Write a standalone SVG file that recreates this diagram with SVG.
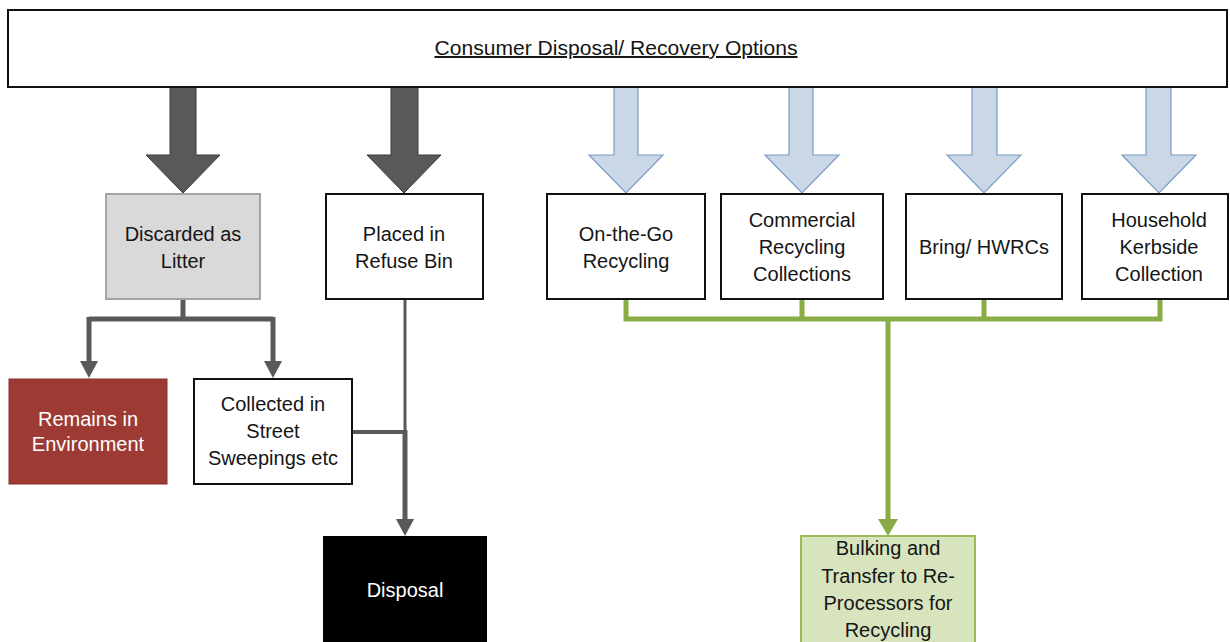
<svg xmlns="http://www.w3.org/2000/svg" width="1230" height="642" viewBox="0 0 1230 642">
<defs>
<style>
.t{font-family:"Liberation Sans",Arial,sans-serif;font-size:20px;fill:#151515;text-anchor:middle}
.w{fill:#ffffff}
.box{fill:#ffffff;stroke:#111;stroke-width:2}
.dark{fill:#595959;stroke:#3a3a3a;stroke-width:1}
.blue{fill:#c9d7e6;stroke:#7c9cc4;stroke-width:1.2}
.gl{fill:none;stroke:#595959;stroke-width:5}
.gr{fill:none;stroke:#8aac46;stroke-width:5}
</style>
<marker id="mg" markerUnits="userSpaceOnUse" markerWidth="18" markerHeight="18" viewBox="0 0 18 18" refX="0" refY="9" orient="auto"><path d="M0,0 L17,9 L0,18 z" fill="#595959"/></marker>
<marker id="mgr" markerUnits="userSpaceOnUse" markerWidth="18" markerHeight="20" viewBox="0 0 18 20" refX="0" refY="10" orient="auto"><path d="M0,0 L17,10 L0,20 z" fill="#8aac46"/></marker>
</defs>
<rect width="1230" height="642" fill="#ffffff"/>

<g id="arrows-top">
<polygon class="dark" points="170,87 196,87 196,155 220,155 183,193 146,155 170,155"/>
<polygon class="dark" points="391,87 418,87 418,155 441,155 404,193 367,155 391,155"/>
<polygon class="blue" points="614,87 638,87 638,155 663,155 626,193 589,155 614,155"/>
<polygon class="blue" points="789,87 813,87 813,155 839,155 802,193 765,155 789,155"/>
<polygon class="blue" points="972,87 997,87 997,155 1021,155 984,193 947,155 972,155"/>
<polygon class="blue" points="1146,87 1171,87 1171,155 1196,155 1159,193 1122,155 1146,155"/>
</g>

<g id="top">
<rect class="box" x="8" y="10" width="1219" height="77"/>
<text class="t" x="616" y="55" font-size="18" textLength="363" lengthAdjust="spacingAndGlyphs" text-decoration="underline">Consumer Disposal/ Recovery Options</text>
</g>

<g id="connectors">
<path class="gl" d="M183,299 V319 M89,319 H273"/>
<path class="gl" d="M89,317 V361" marker-end="url(#mg)"/>
<path class="gl" d="M273,317 V361" marker-end="url(#mg)"/>
<path d="M405,299 V434" fill="none" stroke="#595959" stroke-width="3"/>
<path d="M352,432 H407" fill="none" stroke="#595959" stroke-width="4"/>
<path class="gl" d="M405,430 V519" marker-end="url(#mg)"/>
<path class="gr" d="M626,299 V319 M802,299 V319 M984,299 V319 M1160,299 V319 M623.5,319 H1162.5"/>
<path class="gr" d="M888,317 V519" marker-end="url(#mgr)"/>
</g>

<g id="litter">
<rect x="106" y="194" width="154" height="105" fill="#d9d9d9" stroke="#a3a3a3" stroke-width="2"/>
<text class="t" x="183" y="241">Discarded as</text>
<text class="t" x="183" y="268">Litter</text>
</g>
<g id="refuse">
<rect class="box" x="326" y="194" width="157" height="105"/>
<text class="t" x="404" y="241">Placed in</text>
<text class="t" x="404" y="268">Refuse Bin</text>
</g>
<g id="onthego">
<rect class="box" x="547" y="194" width="158" height="105"/>
<text class="t" x="626" y="241">On-the-Go</text>
<text class="t" x="626" y="268">Recycling</text>
</g>
<g id="commercial">
<rect class="box" x="721" y="194" width="162" height="105"/>
<text class="t" x="802" y="227">Commercial</text>
<text class="t" x="802" y="254">Recycling</text>
<text class="t" x="802" y="281">Collections</text>
</g>
<g id="bring">
<rect class="box" x="906" y="194" width="156" height="105"/>
<text class="t" x="984" y="254">Bring/ HWRCs</text>
</g>
<g id="household">
<rect class="box" x="1082" y="194" width="146" height="105"/>
<text class="t" x="1159" y="227">Household</text>
<text class="t" x="1159" y="254">Kerbside</text>
<text class="t" x="1159" y="281">Collection</text>
</g>
<g id="remains">
<rect x="9" y="379" width="158" height="105" fill="#9d3a33" stroke="#8a2f29" stroke-width="1"/>
<text class="t w" x="88" y="426">Remains in</text>
<text class="t w" x="88" y="451">Environment</text>
</g>
<g id="collected">
<rect class="box" x="194" y="379" width="158" height="105"/>
<text class="t" x="273" y="411">Collected in</text>
<text class="t" x="273" y="438">Street</text>
<text class="t" x="273" y="465">Sweepings etc</text>
</g>
<g id="disposal">
<rect x="323" y="536" width="164" height="108" fill="#000000"/>
<text class="t w" x="405" y="597">Disposal</text>
</g>
<g id="bulking">
<rect x="801" y="536" width="174" height="110" fill="#d7e4bd" stroke="#9bbb59" stroke-width="2"/>
<text class="t" x="888" y="555">Bulking and</text>
<text class="t" x="888" y="583">Transfer to Re-</text>
<text class="t" x="888" y="610">Processors for</text>
<text class="t" x="888" y="637">Recycling</text>
</g>
</svg>
